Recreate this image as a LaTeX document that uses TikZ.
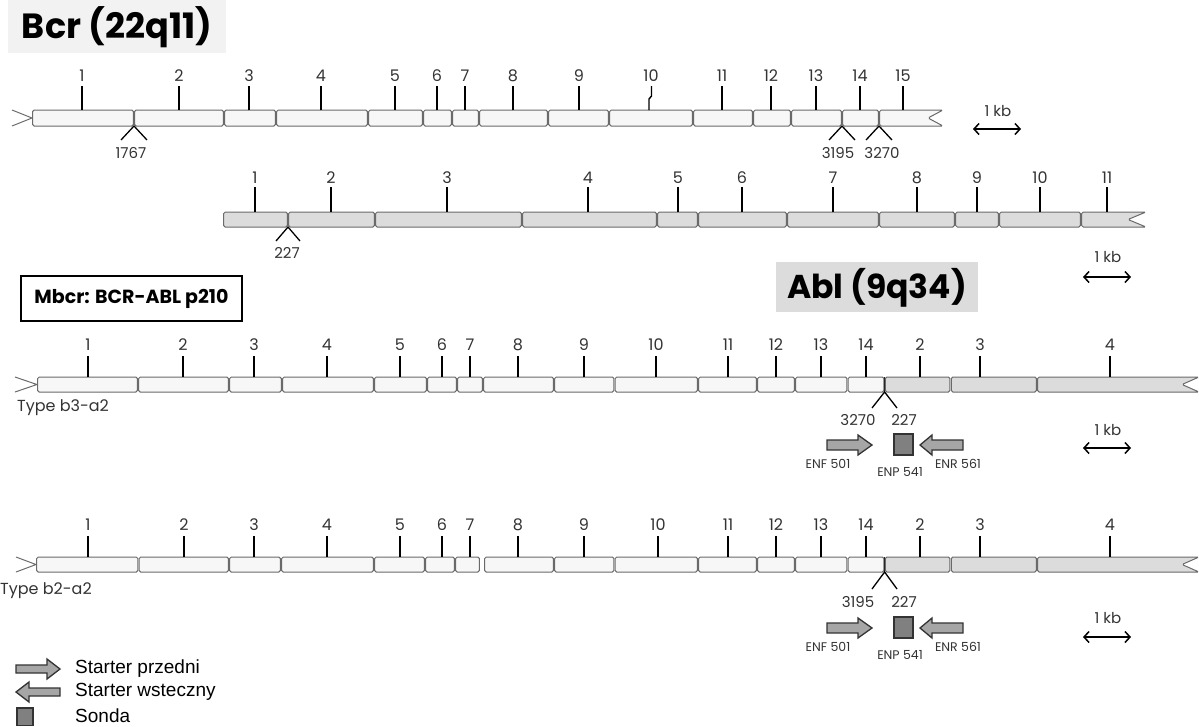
\documentclass[tikz,border=0pt]{standalone}
\usepackage{fontspec}
\setmainfont{Poppins}
\newfontfamily\arialf{Liberation Sans}
\usetikzlibrary{arrows.meta}
\definecolor{bcrfill}{HTML}{F7F7F7}
\definecolor{ablfill}{HTML}{DCDCDC}
\definecolor{segc}{HTML}{6A6A6A}
\definecolor{numc}{HTML}{333333}
\definecolor{primc}{HTML}{A6A6A6}
\definecolor{probec}{HTML}{808080}
\definecolor{titlebg}{HTML}{F2F2F2}
\definecolor{ablbg}{HTML}{DCDCDC}
\begin{document}
\begin{tikzpicture}[x=1pt,y=-1pt,
  seg/.style={draw=segc, line width=1pt, rounded corners=1.5pt},
  bseg/.style={seg, fill=bcrfill},
  aseg/.style={seg, fill=ablfill},
  cut/.style={draw=segc, line width=1pt},
  tk/.style={line width=1.4pt, black},
  num/.style={font=\fontsize{16}{16}\selectfont, text=numc, inner sep=0pt},
  brk/.style={line width=1.3pt, black},
  bnum/.style={font=\fontsize{15}{15}\selectfont, text=numc, inner sep=0pt},
  plab/.style={font=\fontsize{12.5}{12.5}\selectfont, text=numc, inner sep=0pt},
  kb/.style={line width=1.5pt, {Straight Barb[length=5pt,width=11pt]}-{Straight Barb[length=5pt,width=11pt]}},
  prim/.style={fill=primc, draw=black!80, line width=1.3pt},
  prb/.style={fill=probec, draw=black!80, line width=1.3pt},
  leg/.style={font=\arialf\fontsize{19}{19}\selectfont, anchor=west, inner sep=0pt},
  ttl/.style={font=\bfseries\fontsize{33}{33}\selectfont, inner sep=0pt},
]
\useasboundingbox (0,0) rectangle (1199,726);

% ---------- titles ----------
\fill[titlebg] (8,0) rectangle (226,53);
\node[ttl, font=\bfseries\fontsize{35}{35}\selectfont] (bcrtitle) at (117,27) {Bcr (22q11)};
\fill[ablbg] (776,262) rectangle (978,312);
\node[ttl] (abltitle) at (877,288) {Abl (9q34)};
\node[draw=black, line width=1.5pt, fill=white, minimum width=221pt, minimum height=45pt, inner sep=0pt,
  font=\bfseries\fontsize{19}{19}\selectfont] (mbcr) at (131.5,298.5) {Mbcr: BCR-ABL p210};

% ---------- row 1 : Bcr ----------
\draw[cut] (12,110) -- (32,118) -- (12,126);
\foreach \a/\b in {32/134,134/224,224/276,276/368,368/423,423/452,452/479,479/548,548/609,609/693,693/753,753/791,791/842,842/879}
  \draw[bseg] (\a+0.7,110) rectangle (\b-0.7,126);
\draw[bseg] (879.7,110) -- (943,110) -- (928,118) -- (943,126) -- (879.7,126) -- cycle;
\foreach \x/\n in {82/1,179/2,249/3,321/4,395/5,437/6,465/7,513/8,579/9,722/11,771/12,816/13,860/14,903/15}{
  \draw[tk] (\x,110) -- (\x,86);
  \node[num] (ra\n) at (\x,76) {\n};
}
\draw[tk] (649,110) -- (649,99) -- (651.5,96) -- (651.5,86);
\node[num] (ra10) at (651,76) {10};
\draw[brk] (121,140) -- (134,126) -- (147,140);
\node[bnum] (b1767) at (131,153) {1767};
\draw[brk] (829,140) -- (842,126) -- (855,140);
\draw[brk] (866,140) -- (879,126) -- (892,140);
\node[bnum] (b3195a) at (838,153) {3195};
\node[bnum] (b3270a) at (882,153) {3270};
\node[bnum] (kba) at (998,111) {1 kb};
\coordinate (kbaL) at (973,129);
\coordinate (kbaR) at (1021,129);
\draw[kb] (kbaL) -- (kbaR);

% ---------- row 2 : Abl ----------
\foreach \a/\b in {223/288,288/375,375/522,522/657,657/698,698/787,787/879,879/955,955/999,999/1081}
  \draw[aseg] (\a+0.7,212) rectangle (\b-0.7,227);
\draw[aseg] (1081.7,212) -- (1146,212) -- (1128,219.5) -- (1146,227) -- (1081.7,227) -- cycle;
\foreach \x/\n in {255/1,331/2,447/3,588/4,678/5,742/6,833/7,917/8,977/9,1040/10,1107/11}{
  \draw[tk] (\x,212) -- (\x,187);
  \node[num] (rb\n) at (\x,178) {\n};
}
\draw[brk] (276,241) -- (288,227) -- (300,241);
\node[bnum] (b227a) at (287,253) {227};
\node[bnum] (kbb) at (1108,257) {1 kb};
\coordinate (kbbL) at (1083,277);
\coordinate (kbbR) at (1131,277);
\draw[kb] (kbbL) -- (kbbR);

% ---------- row 3 : b3-a2 ----------
\draw[cut] (15,377) -- (37,384.5) -- (15,392);
\foreach \a/\b in {37/138,138/229,229/282,282/374,374/427,427/457,457/483,483/554,554/614.5,614.5/698,698/757,757/795,795/847.5,847.5/884.6}
  \draw[bseg] (\a+0.7,377) rectangle (\b-0.7,392);
\foreach \a/\b in {884.6/950.6,950.6/1037}
  \draw[aseg] (\a+0.7,377) rectangle (\b-0.7,392);
\draw[aseg] (1037.7,377) -- (1199,377) -- (1182,384.5) -- (1199,392) -- (1037.7,392) -- cycle;
\draw[line width=1.2pt, black!85] (884.6,377) -- (884.6,392);
\foreach \x/\n in {88/1,183/2,254/3,327/4,400/5,442/6,470/7,518/8,584/9,656/10,728/11,776/12,821/13,866/14}{
  \draw[tk] (\x,377) -- (\x,356);
  \node[num] (rcb\n) at (\x,345) {\n};
}
\foreach \x/\n in {920/2,980/3,1110/4}{
  \draw[tk] (\x,377) -- (\x,356);
  \node[num] (rca\n) at (\x,345) {\n};
}
\node[num, anchor=west] (typec) at (17,408) {Type b3-a2};
\draw[brk] (872,408) -- (884.6,392) -- (897,408);
\node[bnum] (b3270c) at (858,420) {3270};
\node[bnum] (b227c) at (904,420) {227};
\draw[prim] (827,440) -- (858,440) -- (858,435) -- (872,445) -- (858,455) -- (858,450) -- (827,450) -- cycle;
\draw[prb] (894,434) rectangle (913,455);
\draw[prim] (963,440) -- (932,440) -- (932,435) -- (920,445) -- (932,455) -- (932,450) -- (963,450) -- cycle;
\node[plab] (enfc) at (828,464) {ENF 501};
\node[plab] (enpc) at (900,472) {ENP 541};
\node[plab] (enrc) at (958,464) {ENR 561};
\node[bnum] (kbc) at (1108,430) {1 kb};
\coordinate (kbcL) at (1083,448);
\coordinate (kbcR) at (1131,448);
\draw[kb] (kbcL) -- (kbcR);

% ---------- row 4 : b2-a2 ----------
\draw[cut] (16,557) -- (36,564.5) -- (16,572);
\foreach \a/\b in {36/138.5,138.5/229,229/281,281/374,374/425,425/455,455/480,484/554,554/614.5,614.5/698,698/757,757/795,795/847.5,847.5/884.6}
  \draw[bseg] (\a+0.7,557) rectangle (\b-0.7,572);
\foreach \a/\b in {884.6/950.6,950.6/1037}
  \draw[aseg] (\a+0.7,557) rectangle (\b-0.7,572);
\draw[aseg] (1037.7,557) -- (1199,557) -- (1182,564.5) -- (1199,572) -- (1037.7,572) -- cycle;
\draw[line width=1.2pt, black!85] (884.6,557) -- (884.6,572);
\foreach \x/\n in {88/1,184/2,254/3,327/4,400/5,442/6,470/7,518/8,584/9,658/10,728/11,776/12,821/13,866/14}{
  \draw[tk] (\x,557) -- (\x,536);
  \node[num] (rdb\n) at (\x,525) {\n};
}
\foreach \x/\n in {920/2,980/3,1110/4}{
  \draw[tk] (\x,557) -- (\x,536);
  \node[num] (rda\n) at (\x,525) {\n};
}
\node[num, anchor=west] (typed) at (0,591) {Type b2-a2};
\draw[brk] (872,589) -- (884.6,572) -- (897,589);
\node[bnum] (b3195d) at (858,602) {3195};
\node[bnum] (b227d) at (904,602) {227};
\draw[prim] (827,623) -- (858,623) -- (858,618) -- (872,628) -- (858,638) -- (858,633) -- (827,633) -- cycle;
\draw[prb] (894,617) rectangle (913,638);
\draw[prim] (963,623) -- (932,623) -- (932,618) -- (920,628) -- (932,638) -- (932,633) -- (963,633) -- cycle;
\node[plab] (enfd) at (828,647) {ENF 501};
\node[plab] (enpd) at (900,655) {ENP 541};
\node[plab] (enrd) at (958,647) {ENR 561};
\node[bnum] (kbd) at (1108,618) {1 kb};
\coordinate (kbdL) at (1083,637);
\coordinate (kbdR) at (1131,637);
\draw[kb] (kbdL) -- (kbdR);

% ---------- legend ----------
\draw[prim] (16,665) -- (47,665) -- (47,659) -- (60,669) -- (47,679) -- (47,673) -- (16,673) -- cycle;
\node[leg] (lg1) at (75,669) {Starter przedni};
\draw[prim] (60,688) -- (29,688) -- (29,682) -- (16,692) -- (29,702) -- (29,696) -- (60,696) -- cycle;
\node[leg] (lg2) at (75,692) {Starter wsteczny};
\draw[prb] (17,708) rectangle (33,725.5);
\node[leg] (lg3) at (75,716) {Sonda};
\end{tikzpicture}
\end{document}
